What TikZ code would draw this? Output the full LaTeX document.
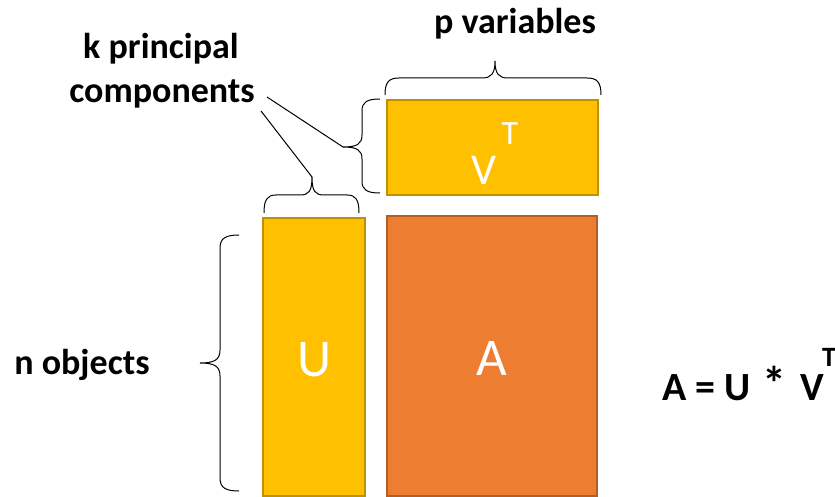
\documentclass[tikz,border=0pt]{standalone}
\usepackage{fontspec}
\setmainfont{Carlito}
\begin{document}
\begin{tikzpicture}[x=1pt,y=-1pt,
  matgold/.style={draw=gold!75!black,fill=gold,line width=2.8pt},
  matorange/.style={draw=orng!75!black,fill=orng,line width=2.8pt},
  brline/.style={draw=black,line width=1pt},
  leader/.style={draw=black,line width=1pt},
  lbl/.style={font=\bfseries\fontsize{36}{43}\selectfont,inner sep=0pt},
  inmat/.style={text=white,inner sep=0pt}]
\definecolor{gold}{HTML}{FFC000}
\definecolor{orng}{HTML}{ED7D31}
\useasboundingbox (0,0) rectangle (835,497);

% matrices
\draw[matgold] (387,100) rectangle (598,195);
\draw[matgold] (263,218) rectangle (365,496);
\draw[matorange] (387,216) rectangle (597,496);

\node[inmat,font=\fontsize{44}{50}\selectfont,anchor=base] (vsym) at (484,185) {V};
\node[inmat,font=\fontsize{34}{40}\selectfont,anchor=base] (vt) at (510,145) {T};
\node[inmat,font=\fontsize{53}{60}\selectfont,anchor=base] (usym) at (314,376) {U};
\node[inmat,font=\fontsize{53}{60}\selectfont,anchor=base] (asym) at (492,375) {A};

% braces
\draw[brline] (385,95) .. controls (385,82) and (389,78) .. (399,78) -- (482,78)
  .. controls (491,78) and (495,74) .. (495,61) .. controls (495,74) and (499,78) .. (508,78)
  -- (587,78) .. controls (597,78) and (601,82) .. (601,95);
\draw[brline] (264,213) .. controls (264,200) and (267,195) .. (276,195) -- (300,195)
  .. controls (309,195) and (312,191) .. (312,177) .. controls (312,191) and (315,195) .. (324,195)
  -- (347,195) .. controls (356,195) and (359,200) .. (359,213);
\draw[brline] (380,99) .. controls (367,99) and (362,102) .. (362,111) -- (362,135)
  .. controls (362,144) and (357,147) .. (343,147) .. controls (357,147) and (362,150) .. (362,159)
  -- (362,181) .. controls (362,190) and (367,193) .. (380,193);
\draw[brline] (239,235) .. controls (226,235) and (220,238) .. (220,248) -- (220,350)
  .. controls (220,360) and (214,363) .. (200,363) .. controls (214,363) and (220,366) .. (220,376)
  -- (220,478) .. controls (220,488) and (226,491) .. (239,491);

\coordinate (tipV) at (343,147);
\coordinate (tipU) at (312,177);

% labels
\node[lbl,anchor=base] (kp1) at (161,59) {k principal};
\node[lbl,anchor=base] (kp2) at (162,103) {components};
\node[lbl,anchor=base] (pvar) at (515,34) {p variables};
\node[lbl,anchor=base] (nobj) at (82,374) {n objects};

\coordinate (lead1) at (267,97);
\coordinate (lead2) at (261,111);
\draw[leader] (lead1) -- (tipV);
\draw[leader] (lead2) -- (tipU);

% equation
\node[inner sep=0pt,anchor=base west,font=\bfseries\fontsize{40}{48}\selectfont] (eq) at (662,400)
  {A = U\kern3pt{} {\fontsize{48}{48}\selectfont *}\kern5pt{} V};
\node[inner sep=0pt,anchor=base west,font=\bfseries\fontsize{28}{34}\selectfont] (eqt) at (822,366) {T};
\end{tikzpicture}
\end{document}
